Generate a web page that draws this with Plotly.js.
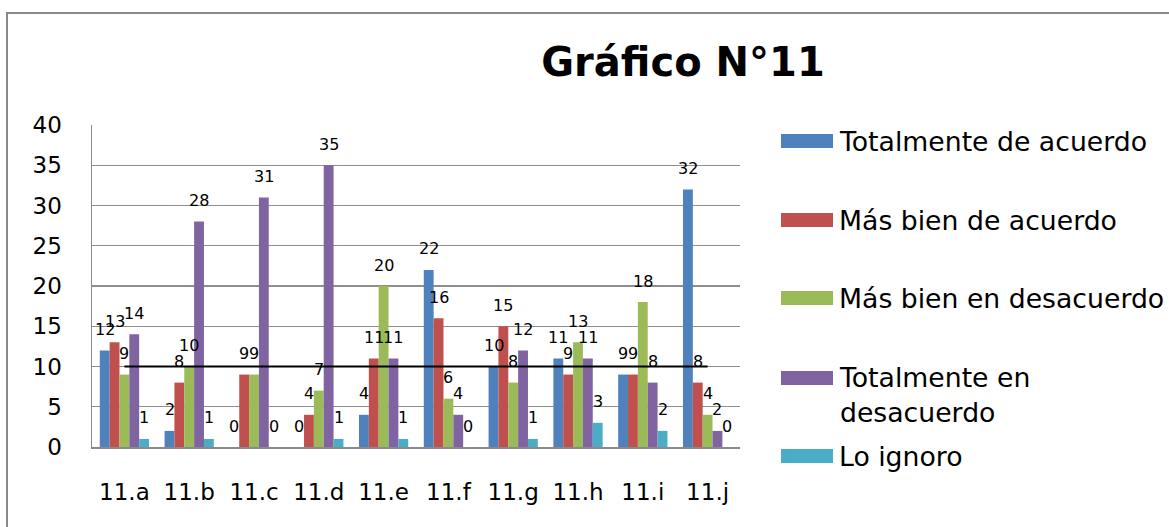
<!DOCTYPE html>
<html>
<head>
<meta charset="utf-8">
<script src="https://cdn.plot.ly/plotly-3.0.1.min.js"></script>
<style>
  html, body { margin: 0; padding: 0; background: #fff; }
  #chart { width: 1169px; height: 527px; }
</style>
</head>
<body>
<div id="chart"></div>
<script>
// ---- data ----
const categories = ['11.a', '11.b', '11.c', '11.d', '11.e', '11.f', '11.g', '11.h', '11.i', '11.j'];
const totalmenteDeAcuerdo = [12, 2, 0, 0, 4, 22, 10, 11, 9, 32];
const masBienDeAcuerdo = [13, 8, 9, 4, 11, 16, 15, 9, 9, 8];
const masBienEnDesacuerdo = [9, 10, 9, 7, 20, 6, 8, 13, 18, 4];
const totalmenteEnDesacuerdo = [14, 28, 31, 35, 11, 4, 12, 11, 8, 2];
const loIgnoro = [1, 1, 0, 1, 1, 0, 1, 3, 2, 0];
const referenceLine = [10, 10, 10, 10, 10, 10, 10, 10, 10, 10];
const seriesNames = ['Totalmente de acuerdo', 'Más bien de acuerdo', 'Más bien en desacuerdo', 'Totalmente en desacuerdo', 'Lo ignoro'];
const legendLabels = ['Totalmente de acuerdo', 'Más bien de acuerdo', 'Más bien en desacuerdo', 'Totalmente en<br>desacuerdo', 'Lo ignoro'];
const seriesColors = ['#4F81BD', '#C0504D', '#9BBB59', '#8064A2', '#4BACC6'];
const yTickValues = [0, 5, 10, 15, 20, 25, 30, 35, 40];
const chartTitle = 'Gráfico N°11';

const seriesValues = [totalmenteDeAcuerdo, masBienDeAcuerdo, masBienEnDesacuerdo, totalmenteEnDesacuerdo, loIgnoro];

// ---- layout geometry ----
const W = 1169, H = 527;
const plotL = 92, plotR = 740, plotT = 125, plotB = 447;
const font = 'DejaVu Sans, sans-serif';
const bargap = 0.24;
const px2x = p => (p - plotL) / (plotR - plotL);
const px2y = p => (plotB - p) / (plotB - plotT);

const traces = seriesValues.map((vals, i) => ({
  type: 'bar',
  name: seriesNames[i],
  x: categories,
  y: vals,
  marker: { color: seriesColors[i], line: { width: 0 } },
  showlegend: false,
  hoverinfo: 'x+y+name'
}));

traces.push({
  type: 'scatter',
  mode: 'lines',
  x: categories,
  y: referenceLine,
  line: { color: '#000000', width: 2 },
  showlegend: false,
  hoverinfo: 'skip'
});

// data labels (annotations on data coordinates)
const n = seriesValues.length;
const groupW = 1 - bargap;
const barW = groupW / n;
const annotations = [];
seriesValues.forEach((vals, i) => {
  const off = -groupW / 2 + barW * (i + 0.5);
  vals.forEach((v, j) => {
    annotations.push({
      x: j + off, y: v, xref: 'x', yref: 'y',
      text: String(v), showarrow: false,
      xanchor: 'center', yanchor: 'middle', yshift: 21,
      font: { family: font, size: 16, color: '#000' }
    });
  });
});

// manual legend
const legendCenters = [141, 220, 298, 378, 456];
const shapes = [];
legendLabels.forEach((lab, i) => {
  const cy = legendCenters[i];
  shapes.push({
    type: 'rect', xref: 'paper', yref: 'paper',
    x0: px2x(781), x1: px2x(833), y0: px2y(cy - 7), y1: px2y(cy + 7),
    fillcolor: seriesColors[i], line: { width: 0 }
  });
  const twoLine = lab.indexOf('<br>') >= 0;
  annotations.push({
    xref: 'paper', yref: 'paper',
    x: px2x(837), y: twoLine ? px2y(cy - 18) : px2y(cy),
    xanchor: 'left', yanchor: twoLine ? 'top' : 'middle',
    align: 'left',
    text: lab, showarrow: false,
    font: { family: font, size: 26.7, color: '#000' }
  });
});

// outer chart border
shapes.push({
  type: 'rect', xref: 'paper', yref: 'paper',
  x0: px2x(7), x1: px2x(W + 10), y0: px2y(13), y1: px2y(H + 10),
  line: { color: '#8a8a8a', width: 2 }, fillcolor: 'rgba(0,0,0,0)', layer: 'below'
});

const layout = {
  width: W, height: H,
  margin: { l: plotL, r: W - plotR, t: plotT, b: H - plotB, pad: 0 },
  paper_bgcolor: '#ffffff', plot_bgcolor: '#ffffff',
  barmode: 'group', bargap: bargap, bargroupgap: 0,
  scattermode: 'overlay',
  title: {
    text: '<b>' + chartTitle + '</b>',
    x: 683 / W, xanchor: 'center', xref: 'container',
    y: 1 - 62 / H, yanchor: 'middle', yref: 'container',
    font: { family: font, size: 40, color: '#000' }
  },
  font: { family: font, color: '#000' },
  xaxis: {
    type: 'category',
    showline: true, linecolor: '#8a8a8a', linewidth: 1.5,
    showgrid: false, zeroline: false,
    ticks: 'outside', ticklen: 24, tickcolor: 'rgba(0,0,0,0)',
    tickfont: { family: font, size: 23, color: '#000' }
  },
  yaxis: {
    range: [0, 40], tickvals: yTickValues,
    showline: true, linecolor: '#8a8a8a', linewidth: 1.5,
    showgrid: true, gridcolor: '#8e8e8e', gridwidth: 1.3,
    zeroline: false,
    ticks: 'outside', ticklen: 24, tickcolor: 'rgba(0,0,0,0)',
    tickfont: { family: font, size: 23, color: '#000' }
  },
  annotations: annotations,
  shapes: shapes,
  showlegend: false
};

Plotly.newPlot('chart', traces, layout, { displayModeBar: false, staticPlot: true });
</script>
</body>
</html>
